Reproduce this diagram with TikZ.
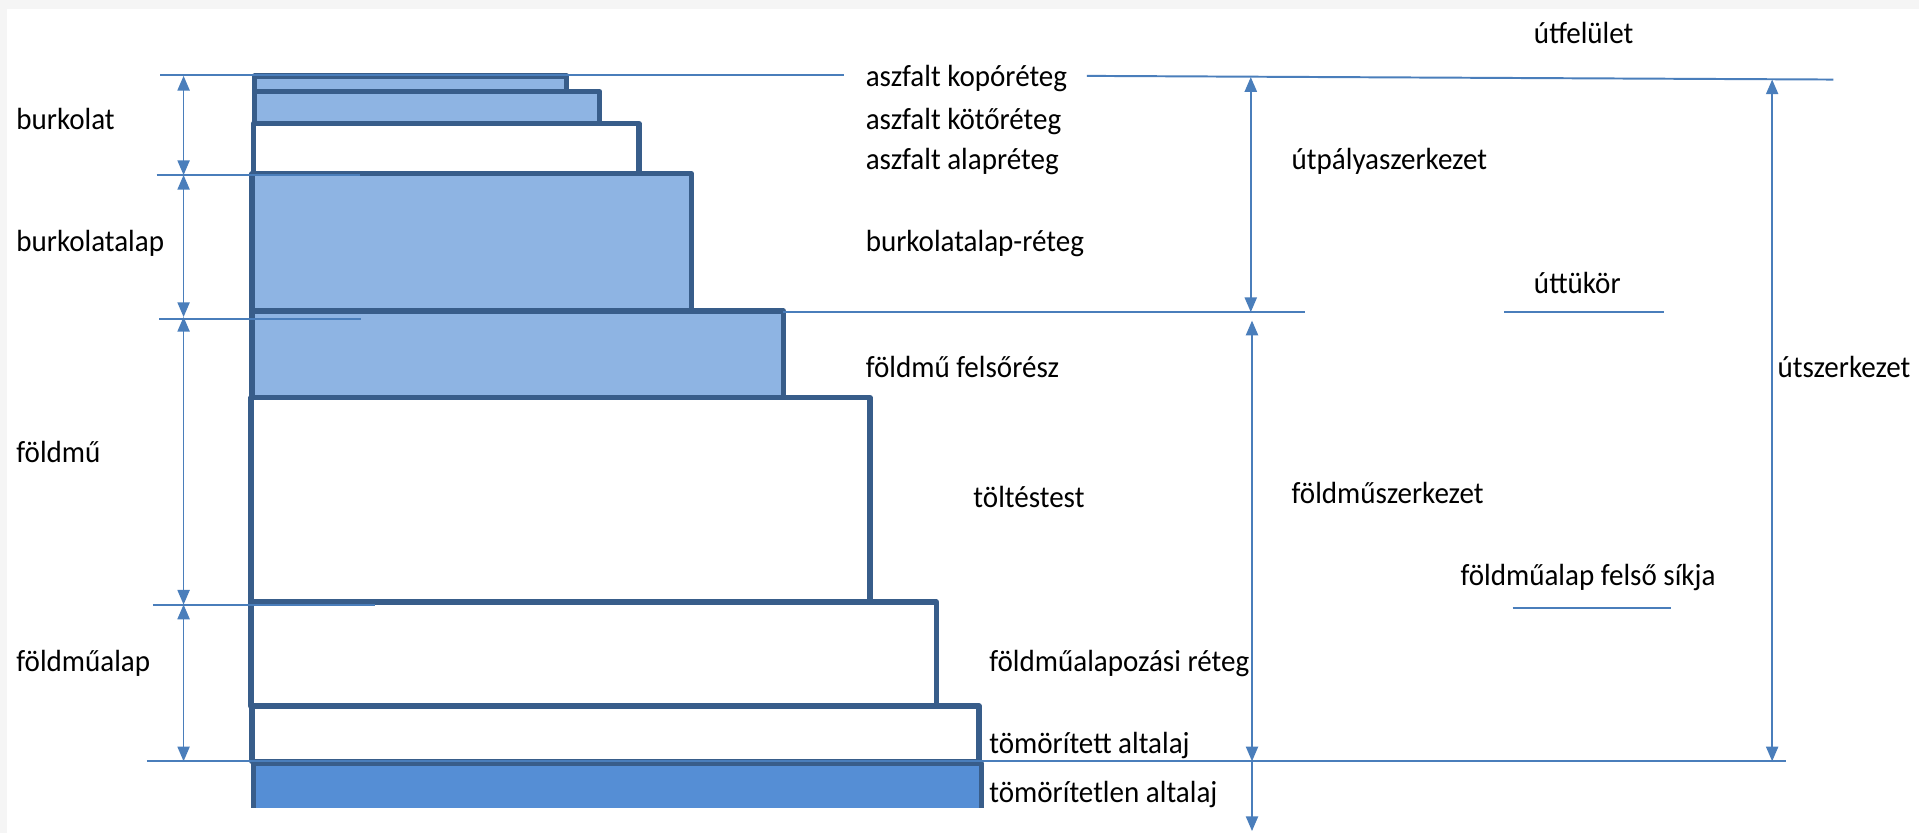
\documentclass[tikz,border=0pt]{standalone}
\usepackage{fontspec}
\setmainfont{Carlito}[FakeStretch=0.95]
\usetikzlibrary{arrows.meta, positioning}
\definecolor{edgeblue}{HTML}{385D8A}
\definecolor{layerblue}{HTML}{8EB4E3}
\definecolor{soilblue}{HTML}{558ED5}
\definecolor{dimblue}{HTML}{4A7EBB}
\definecolor{margingray}{HTML}{F5F5F5}
\tikzset{>={Triangle[length=6pt, width=5pt]}}
\tikzset{
	layer/.style={draw=edgeblue, line width=2.2pt, line join=round},
	dimline/.style={draw=dimblue, line width=0.6pt},
	guideline/.style={draw=dimblue, line width=0.8pt},
	lbl/.style={anchor=base west, inner sep=0pt, yshift=-4.3pt, font=\fontsize{12.5}{14}\selectfont},
}

\begin{document}
\begin{tikzpicture}[x=0.5pt, y=-0.5pt]
	\useasboundingbox (0,0) rectangle (1568,681);
	\fill[margingray] (0,0) rectangle (1568,681);
	\fill[white] (6,7) rectangle (1568,681);
	% Layers:
	\draw[layer, fill=soilblue] (207,660) -- (207,624) -- (802,624) -- (802,660);
	\draw[layer, fill=white] (206,577) rectangle (800,622);
	\draw[layer, fill=white] (205,492) rectangle (765,577);
	\draw[layer, fill=white] (205,325) rectangle (711,492);
	\draw[layer, fill=layerblue] (206,254) rectangle (640,325);
	\draw[layer, fill=layerblue] (206,142) rectangle (565,254);
	\draw[layer, fill=white] (207,101) rectangle (522,142);
	\draw[layer, fill=layerblue] (208,75) rectangle (490,101);
	\draw[layer, fill=layerblue] (208,62) rectangle (463,75);
	% Levels:
	\coordinate (top left) at (131,61);
	\coordinate (top mid) at (690,61);
	\coordinate (top right start) at (888,62);
	\coordinate (top right) at (1498,65);
	\coordinate (tick burk a) at (128,143);
	\coordinate (tick burk b) at (294,143);
	\coordinate (tick alap a) at (130,261);
	\coordinate (tick alap b) at (295,261);
	\coordinate (tick fm a) at (125,494);
	\coordinate (tick fm b) at (306,494);
	\coordinate (base left) at (120,622);
	\coordinate (base right) at (1459,622);
	\coordinate (mirror a) at (640,255);
	\coordinate (mirror b) at (1066,255);
	\coordinate (mirror ul a) at (1229,255);
	\coordinate (mirror ul b) at (1360,255);
	\coordinate (plane ul a) at (1236,497);
	\coordinate (plane ul b) at (1365,497);
	\draw[guideline] (top left) -- (top mid);
	\draw[guideline] (top right start) -- (top right);
	\draw[guideline] (tick burk a) -- (tick burk b);
	\draw[guideline] (tick alap a) -- (tick alap b);
	\draw[guideline] (tick fm a) -- (tick fm b);
	\draw[guideline] (base left) -- (base right);
	\draw[guideline] (mirror a) -- (mirror b);
	\draw[guideline] (mirror ul a) -- (mirror ul b);
	\draw[guideline] (plane ul a) -- (plane ul b);
	% Dimension arrows:
	\coordinate (l0) at (150,62);
	\coordinate (l1) at (150,143);
	\coordinate (l2) at (150,259);
	\coordinate (l3) at (150,494);
	\coordinate (l4) at (150,622);
	\draw[dimline, <->] (l0) -- (l1);
	\draw[dimline, <->] (l1) -- (l2);
	\draw[dimline, <->] (l2) -- (l3);
	\draw[dimline, <->] (l3) -- (l4);
	\coordinate (r0) at (1022,63);
	\coordinate (r1) at (1022,255);
	\coordinate (r2) at (1023,262);
	\coordinate (r3) at (1023,622);
	\coordinate (r4) at (1023,679);
	\draw[dimline, <->] (r0) -- (r1);
	\draw[dimline, <->] (r2) -- (r3);
	\draw[dimline, ->] (r3) -- (r4);
	\coordinate (s0) at (1448,65);
	\coordinate (s1) at (1448,622);
	\draw[dimline, <->] (s0) -- (s1);
	% Labels:
	\node[lbl] (burkolat) at (13,97){burkolat};
	\node[lbl] (burkolatalap) at (13,197){burkolatalap};
	\node[lbl] (foldmu) at (13,369){földmű};
	\node[lbl] (foldmualap) at (13,540){földműalap};
	\node[lbl] (kopo) at (707,62){aszfalt kopóréteg};
	\node[lbl] (koto) at (707,97){aszfalt kötőréteg};
	\node[lbl] (alapreteg) at (707,130){aszfalt alapréteg};
	\node[lbl] (burkalapreteg) at (707,197){burkolatalap-réteg};
	\node[lbl] (felsoresz) at (707,300){földmű felsőrész};
	\node[lbl] (toltes) at (795,406){töltéstest};
	\node[lbl] (alapozasi) at (808,540){földműalapozási réteg};
	\node[lbl] (tomoritett) at (808,607){tömörített altalaj};
	\node[lbl] (tomoritetlen) at (808,647){tömörítetlen altalaj};
	\node[lbl] (utfelulet) at (1253,27){útfelület};
	\node[lbl] (utpalya) at (1055,130){útpályaszerkezet};
	\node[lbl] (uttukor) at (1253,231){úttükör};
	\node[lbl] (fmszerk) at (1055,403){földműszerkezet};
	\node[lbl] (felsosik) at (1193,470){földműalap felső síkja};
	\node[lbl] (utszerk) at (1452,300){útszerkezet};
\end{tikzpicture}
\end{document}
